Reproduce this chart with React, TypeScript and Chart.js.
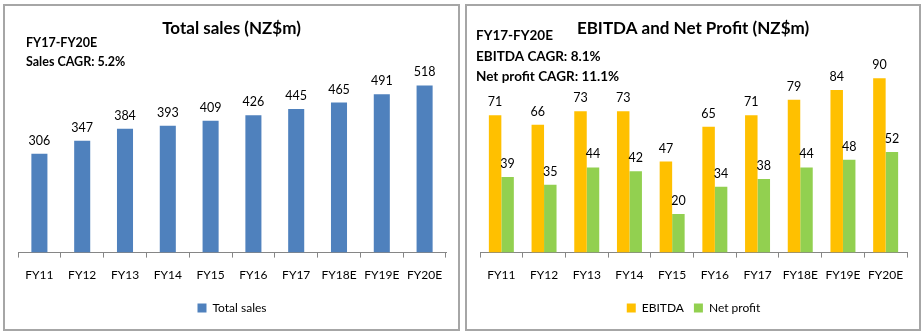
import React, { useEffect, useRef } from "react";
import { Chart, registerables } from "chart.js";

Chart.register(...registerables);

const categories = ["FY11", "FY12", "FY13", "FY14", "FY15", "FY16", "FY17", "FY18E", "FY19E", "FY20E"];
const totalSales = [306, 347, 384, 393, 409, 426, 445, 465, 491, 518];
const ebitda = [71, 66, 73, 73, 47, 65, 71, 79, 84, 90];
const netProfit = [39, 35, 44, 42, 20, 34, 38, 44, 48, 52];
const salesTitle = "Total sales (NZ$m)";
const profitTitle = "EBITDA and Net Profit (NZ$m)";
const salesNotes = ["FY17-FY20E", "Sales CAGR: 5.2%"];
const profitNotes = ["FY17-FY20E", "EBITDA CAGR: 8.1%", "Net profit CAGR: 11.1%"];

const FONT = "Lato, 'DejaVu Sans', sans-serif";

function makePlugin(title: string, notes: string[], noteX: number, noteY0: number, noteGap: number, noteSize: number) {
  return {
    id: "annot",
    afterDraw(chart: any) {
      const ctx = chart.ctx;
      ctx.save();
      ctx.fillStyle = "#000";
      ctx.textAlign = "center";
      ctx.textBaseline = "middle";
      ctx.font = `bold 17px ${FONT}`;
      ctx.fillText(title, chart.width / 2, 23);
      ctx.textAlign = "left";
      ctx.font = `bold ${noteSize}px ${FONT}`;
      notes.forEach((n, i) => ctx.fillText(n, noteX, noteY0 + i * noteGap));
      ctx.font = `12.5px ${FONT}`;
      ctx.textAlign = "center";
      ctx.textBaseline = "alphabetic";
      chart.data.datasets.forEach((ds: any, di: number) => {
        const meta = chart.getDatasetMeta(di);
        meta.data.forEach((el: any, i: number) => {
          ctx.fillText(String(ds.data[i]), el.x, el.y - 9);
        });
      });
      ctx.restore();
    },
  };
}

function baseOptions(max: number) {
  return {
    responsive: false,
    animation: false as const,
    layout: { padding: { left: 13, right: 12, top: 53, bottom: 5 } },
    plugins: {
      title: { display: false },
      tooltip: { enabled: false },
      legend: {
        display: true,
        position: "bottom" as const,
        labels: {
          boxWidth: 9,
          boxHeight: 9,
          padding: 10,
          color: "#000",
          font: { family: FONT, size: 12 },
        },
      },
    },
    scales: {
      x: {
        offset: true,
        grid: { offset: true, drawOnChartArea: false, drawTicks: true, tickLength: 5, color: "#868686" },
        border: { display: true, color: "#868686", width: 1 },
        ticks: { color: "#000", padding: 10, font: { family: FONT, size: 12 }, maxRotation: 0, autoSkip: false },
      },
      y: { display: false, min: 0, max },
    },
  };
}

function Panel(props: { left: number; width: number; config: any }) {
  const ref = useRef<HTMLCanvasElement>(null);
  useEffect(() => {
    const chart = new Chart(ref.current!, props.config);
    return () => chart.destroy();
  }, []);
  return (
    <div
      style={{
        position: "absolute",
        left: props.left,
        top: 4,
        width: props.width,
        height: 327,
        border: "2px solid #a6a6a6",
        boxSizing: "border-box",
        background: "#fff",
      }}
    >
      <canvas ref={ref} width={props.width - 4} height={323} style={{ display: "block" }} />
    </div>
  );
}

export default function App() {
  const salesConfig = {
    type: "bar",
    data: {
      labels: categories,
      datasets: [
        {
          label: "Total sales",
          data: totalSales,
          backgroundColor: "#4f81bd",
          borderWidth: 0,
          barPercentage: 1,
          categoryPercentage: 0.375,
        },
      ],
    },
    options: baseOptions(600),
    plugins: [makePlugin(salesTitle, salesNotes, 21, 37, 19, 12.5)],
  };
  const profitConfig = {
    type: "bar",
    data: {
      labels: categories,
      datasets: [
        {
          label: "EBITDA",
          data: ebitda,
          backgroundColor: "#ffc000",
          borderWidth: 0,
          barPercentage: 1,
          categoryPercentage: 0.585,
        },
        {
          label: "Net profit",
          data: netProfit,
          backgroundColor: "#92d050",
          borderWidth: 0,
          barPercentage: 1,
          categoryPercentage: 0.585,
        },
      ],
    },
    options: baseOptions(100),
    plugins: [makePlugin(profitTitle, profitNotes, 9, 30, 20.5, 13.5)],
  };
  return (
    <div style={{ position: "fixed", left: 0, top: 0, width: 923, height: 335, background: "#fff" }}>
      <Panel left={3} width={457} config={salesConfig} />
      <Panel left={465} width={456} config={profitConfig} />
    </div>
  );
}
